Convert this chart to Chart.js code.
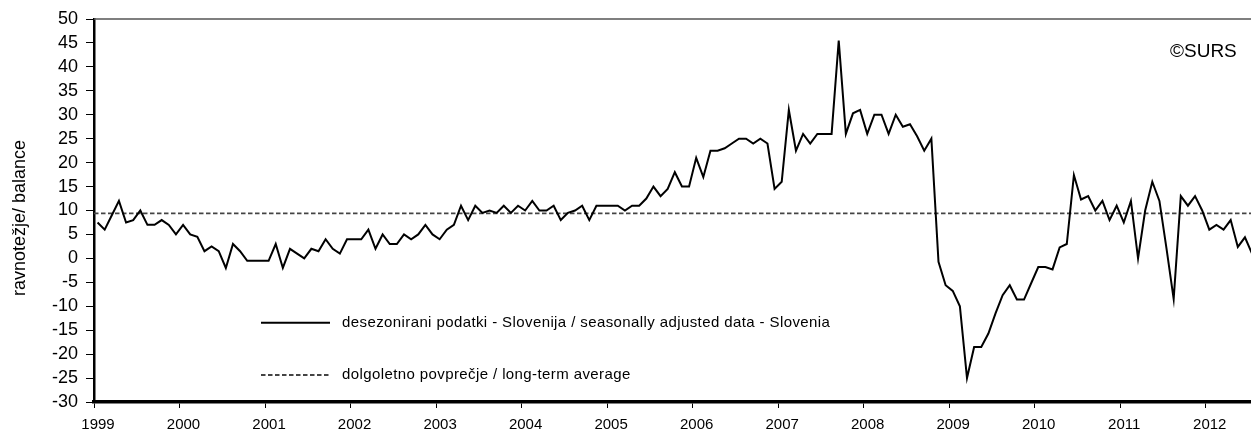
<!DOCTYPE html>
<html>
<head>
<meta charset="utf-8">
<script src="https://cdn.jsdelivr.net/npm/chart.js@4.4.1/dist/chart.umd.min.js"></script>
<style>
    html, body { margin: 0; padding: 0; background: #fff; }
    #okvir { width: 1251px; height: 432px; }
</style>
</head>
<body>
<div id="okvir"><canvas id="zaupanjeChart" width="1251" height="432"></canvas></div>
<script>

// letnice na osi x (oznaka na vsakih 12 mesecev)
const letnice = ['1999', '2000', '2001', '2002', '2003', '2004', '2005', '2006', '2007', '2008', '2009', '2010', '2011', '2012'];

// desezonirani podatki - mesecno, od januarja 1999
const podatki = [
    7.5, 6, 9, 12, 7.5, 8, 10, 7, 7, 8, 7, 5,                 // 1999
    7, 5, 4.5, 1.5, 2.5, 1.5, -2, 3, 1.5, -0.5, -0.5, -0.5,   // 2000
    -0.5, 3, -2, 2, 1, 0, 2, 1.5, 4, 2, 1, 4,                 // 2001
    4, 4, 6, 2, 5, 3, 3, 5, 4, 5, 7, 5,                       // 2002
    4, 6, 7, 11, 8, 11, 9.5, 10, 9.5, 11, 9.5, 11,            // 2003
    10, 12, 10, 10, 11, 8, 9.5, 10, 11, 8, 11, 11,            // 2004
    11, 11, 10, 11, 11, 12.5, 15, 13, 14.5, 18, 15, 15,       // 2005
    21, 17, 22.5, 22.5, 23, 24, 25, 25, 24, 25, 24, 14.5,     // 2006
    16, 31, 22.5, 26, 24, 26, 26, 26, 45.5, 26, 30.3, 31,     // 2007
    26, 30, 30, 26, 30, 27.5, 28, 25.5, 22.5, 25, -0.7, -5.6, // 2008
    -6.8, -10, -25, -18.5, -18.5, -15.7, -11.5, -7.7, -5.6, -8.6, -8.6, -5.2, // 2009
    -1.8, -1.8, -2.3, 2.3, 3, 17.4, 12.3, 13, 10, 12, 8, 11,  // 2010
    7.5, 12, 0, 10, 16, 12, 2, -8.5, 13, 11, 13, 10,          // 2011
    6, 7, 6, 8, 2.4, 4.4, 1                                   // 2012
];

// dolgoletno povprecje
const povprecje = 9.4;

const oznakeLegende = [
    'desezonirani podatki - Slovenija / seasonally adjusted data - Slovenia',
    'dolgoletno povprečje / long-term average'
];

const naslovY = 'ravnotežje/ balance';
const avtor = '©SURS';

const pisava = "'Liberation Sans', Arial, Helvetica, sans-serif";
const konecOsi = 162.35;

// legenda, naslov osi in zgornji rob
const dodatkiPlugin = {
    id: 'dodatki',
    afterDraw: function (chart) {
        var ctx = chart.ctx;
        var ca = chart.chartArea;
        ctx.save();

        ctx.strokeStyle = '#555';
        ctx.lineWidth = 1.5;
        ctx.beginPath();
        ctx.moveTo(ca.left, ca.top);
        ctx.lineTo(ca.right, ca.top);
        ctx.stroke();

        ctx.fillStyle = '#000';
        ctx.font = '15px ' + pisava;
        ctx.textAlign = 'left';
        ctx.textBaseline = 'middle';
        var legY = [322.7, 375];
        chart.data.datasets.forEach(function (ds, i) {
            ctx.strokeStyle = ds.borderColor;
            ctx.lineWidth = ds.borderWidth;
            ctx.setLineDash(ds.borderDash || []);
            ctx.beginPath();
            ctx.moveTo(261, legY[i]);
            ctx.lineTo(330, legY[i]);
            ctx.stroke();
            ctx.setLineDash([]);
            ctx.letterSpacing = '0.4px';
            ctx.fillText(ds.label, 342, legY[i]);
            ctx.letterSpacing = '0px';
        });

        ctx.font = '19px ' + pisava;
        ctx.fillText(avtor, 1170, 52);

        ctx.translate(20, 218);
        ctx.rotate(-Math.PI / 2);
        ctx.textAlign = 'center';
        ctx.font = '18px ' + pisava;
        ctx.fillText(naslovY, 0, 0);
        ctx.restore();
    }
};

var ctxZaupanje = document.getElementById('zaupanjeChart').getContext('2d');
var zaupanjeChart = new Chart(ctxZaupanje, {
    type: 'line',
    data: {
        datasets: [{
            label: oznakeLegende[0],
            data: podatki.map(function (v, i) { return { x: i + 0.5, y: v }; }),
            borderColor: '#000',
            borderWidth: 2,
            pointRadius: 0,
            tension: 0,
            fill: false
        }, {
            label: oznakeLegende[1],
            data: [{ x: 0, y: povprecje }, { x: podatki.length, y: povprecje }],
            borderColor: '#444',
            borderWidth: 1.8,
            borderDash: [4.5, 2.5],
            pointRadius: 0,
            fill: false
        }]
    },
    options: {
        responsive: false,
        animation: false,
        devicePixelRatio: 1,
        layout: { padding: { top: 19, right: 0, left: 0, bottom: 0 } },
        plugins: {
            legend: { display: false },
            tooltip: { enabled: false }
        },
        scales: {
            x: {
                type: 'linear',
                min: 0,
                max: konecOsi,
                afterFit: function (scale) { scale.height = 30; },
                border: { display: true, color: '#000', width: 3.5 },
                grid: { drawOnChartArea: false, drawTicks: true, tickLength: 6, color: '#000' },
                ticks: {
                    stepSize: 12,
                    includeBounds: false,
                    autoSkip: false,
                    maxRotation: 0,
                    padding: 8,
                    labelOffset: 4,
                    color: '#000',
                    font: { family: pisava, size: 15 },
                    callback: function (value) { return letnice[value / 12]; }
                }
            },
            y: {
                min: -30,
                max: 50,
                afterFit: function (scale) { scale.width = 94; },
                border: { display: true, color: '#000', width: 2.5 },
                grid: { drawOnChartArea: false, drawTicks: true, tickLength: 8, color: '#000' },
                ticks: {
                    stepSize: 5,
                    autoSkip: false,
                    padding: 8,
                    color: '#000',
                    font: { family: pisava, size: 18, lineHeight: 1 }
                }
            }
        }
    },
    plugins: [dodatkiPlugin]
});

</script>
</body>
</html>
